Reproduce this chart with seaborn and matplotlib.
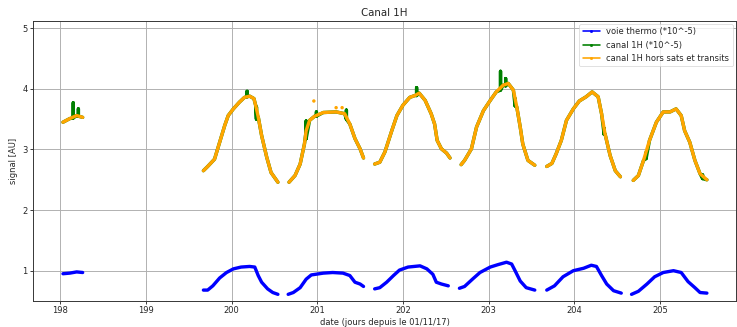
import numpy as np
import pandas as pd
import matplotlib
matplotlib.use("Agg")
import matplotlib.pyplot as plt
import seaborn as sns
from matplotlib.lines import Line2D

# ---------------- data ----------------
blue_x = [
    [198.03, 198.11, 198.19, 198.26],
    [199.67, 199.72, 199.78, 199.86, 199.94, 200.02, 200.11, 200.21, 200.27, 200.31, 200.35, 200.42, 200.48, 200.54],
    [200.66, 200.72, 200.80, 200.87, 200.93, 201.07, 201.18, 201.30, 201.38, 201.44, 201.50, 201.54],
    [201.67, 201.73, 201.81, 201.89, 201.96, 202.06, 202.20, 202.28, 202.35, 202.39, 202.45, 202.53],
    [202.66, 202.72, 202.82, 202.90, 203.02, 203.11, 203.21, 203.27, 203.31, 203.37, 203.44, 203.54],
    [203.68, 203.77, 203.87, 203.99, 204.11, 204.20, 204.26, 204.32, 204.38, 204.46, 204.55],
    [204.67, 204.75, 204.85, 204.94, 205.04, 205.16, 205.25, 205.33, 205.41, 205.47, 205.55],
]
blue_y = [
    [0.95, 0.96, 0.98, 0.97],
    [0.68, 0.68, 0.75, 0.88, 0.97, 1.03, 1.06, 1.07, 1.06, 0.92, 0.81, 0.70, 0.64, 0.61],
    [0.61, 0.64, 0.72, 0.86, 0.93, 0.96, 0.97, 0.96, 0.92, 0.81, 0.78, 0.74],
    [0.70, 0.72, 0.81, 0.92, 1.01, 1.06, 1.08, 1.03, 0.94, 0.81, 0.78, 0.75],
    [0.71, 0.74, 0.87, 0.97, 1.06, 1.10, 1.14, 1.11, 1.00, 0.83, 0.72, 0.68],
    [0.68, 0.75, 0.90, 1.00, 1.04, 1.09, 1.07, 0.92, 0.78, 0.67, 0.63],
    [0.61, 0.66, 0.78, 0.90, 0.97, 1.00, 0.97, 0.82, 0.72, 0.64, 0.63],
]

orange_x = [
    [198.03, 198.11, 198.19, 198.26],
    [199.67, 199.72, 199.80, 199.86, 199.92, 199.96, 200.02, 200.09, 200.15, 200.21, 200.26, 200.28, 200.31, 200.35, 200.41, 200.46, 200.52, 200.54],
    [200.67, 200.74, 200.80, 200.85, 200.87, 200.91, 200.97, 201.07, 201.22, 201.32, 201.38, 201.44, 201.50, 201.54],
    [201.67, 201.73, 201.79, 201.87, 201.93, 202.00, 202.08, 202.14, 202.19, 202.26, 202.33, 202.37, 202.40, 202.45, 202.51, 202.55],
    [202.68, 202.72, 202.80, 202.86, 202.94, 203.02, 203.09, 203.17, 203.23, 203.29, 203.33, 203.37, 203.40, 203.46, 203.54],
    [203.68, 203.74, 203.79, 203.85, 203.91, 203.99, 204.06, 204.14, 204.21, 204.28, 204.32, 204.36, 204.42, 204.48, 204.54],
    [204.69, 204.75, 204.81, 204.88, 204.96, 205.04, 205.12, 205.19, 205.25, 205.29, 205.35, 205.41, 205.47, 205.55],
]
orange_y = [
    [3.45, 3.51, 3.56, 3.53],
    [2.65, 2.72, 2.84, 3.12, 3.40, 3.56, 3.67, 3.78, 3.86, 3.88, 3.84, 3.73, 3.54, 3.23, 2.87, 2.62, 2.50, 2.46],
    [2.46, 2.57, 2.76, 3.09, 3.31, 3.48, 3.55, 3.61, 3.62, 3.59, 3.42, 3.18, 3.01, 2.86],
    [2.76, 2.79, 2.96, 3.31, 3.56, 3.73, 3.86, 3.89, 3.93, 3.81, 3.59, 3.42, 3.15, 3.01, 2.94, 2.86],
    [2.75, 2.82, 3.01, 3.37, 3.64, 3.81, 3.95, 4.06, 4.09, 3.98, 3.70, 3.37, 3.09, 2.82, 2.74],
    [2.72, 2.77, 2.93, 3.15, 3.48, 3.67, 3.80, 3.87, 3.95, 3.87, 3.59, 3.26, 2.90, 2.65, 2.55],
    [2.49, 2.57, 2.82, 3.15, 3.45, 3.62, 3.62, 3.67, 3.56, 3.31, 3.12, 2.82, 2.60, 2.50],
]

# isolated orange points
orange_out_x = [200.96, 201.22, 201.29]
orange_out_y = [3.80, 3.69, 3.69]

# green (canal 1H) excursions above the filtered curve: x, low, high
spike_x = [198.15, 198.21, 200.18, 200.29, 200.87, 200.99, 201.34, 202.16, 203.14, 203.20, 203.31, 204.35, 204.84, 205.50]
spike_lo = [3.52, 3.55, 3.87, 3.50, 3.18, 3.55, 3.50, 3.89, 3.98, 4.05, 3.72, 3.25, 2.85, 2.52]
spike_hi = [3.77, 3.67, 3.96, 3.70, 3.47, 3.62, 3.65, 4.02, 4.29, 4.17, 3.84, 3.35, 2.95, 2.58]

labels = ["voie thermo (*10^-5)", "canal 1H (*10^-5)", "canal 1H hors sats et transits"]
colors = ["blue", "green", "orange"]
xticks = [198, 199, 200, 201, 202, 203, 204, 205]
yticks = [1, 2, 3, 4, 5]


def frame(xs, ys):
    rows = []
    for i, (sx, sy) in enumerate(zip(xs, ys)):
        for a, b in zip(sx, sy):
            rows.append((i, a, b))
    return pd.DataFrame(rows, columns=["seg", "x", "y"])


# green series = filtered points plus the excursions, per segment
green_x, green_y = [], []
for sx, sy in zip(orange_x, orange_y):
    pts = list(zip(sx, sy))
    for xx, lo, hi in zip(spike_x, spike_lo, spike_hi):
        if sx[0] - 0.02 <= xx <= sx[-1] + 0.02:
            pts += [(xx, lo), (xx, hi), (xx, lo)]
    pts = sorted(pts, key=lambda p: p[0])
    green_x.append([p[0] for p in pts])
    green_y.append([p[1] for p in pts])

blue_df = frame(blue_x, blue_y)
green_df = frame(green_x, green_y)
orange_df = frame(orange_x, orange_y)
out_df = pd.DataFrame({"x": orange_out_x, "y": orange_out_y})

# ---------------- figure ----------------
sns.set_style("ticks")
plt.rcParams["font.family"] = ["DejaVu Sans"]

DPI = 737 / 14
fig = plt.figure(figsize=(14, 327 / DPI), dpi=DPI)
ax = fig.add_axes([33 / 737, 1 - 301 / 327, (736 - 33) / 737, (301 - 20.7) / 327])

lw = 4.6
for df, c in [(blue_df, colors[0]), (green_df, colors[1]), (orange_df, colors[2])]:
    sns.lineplot(data=df, x="x", y="y", units="seg", estimator=None, sort=False,
                 color=c, lw=lw, solid_capstyle="round", solid_joinstyle="round",
                 ax=ax, legend=False)
sns.scatterplot(data=out_df, x="x", y="y", color=colors[2], s=22, edgecolor="none", ax=ax, legend=False)

ax.set_xlim(197.68, 205.89)
ax.set_ylim(0.5, 5.125)
ax.set_xticks(xticks)
ax.set_yticks(yticks)
ax.tick_params(labelsize=11.5, length=4, width=1.2)
ax.grid(True, color="#b0b0b0", lw=1.3)
for s in ax.spines.values():
    s.set_color("#333333")
    s.set_linewidth(1.3)

ax.set_title("Canal 1H", fontsize=14)
ax.set_xlabel("date (jours depuis le 01/11/17)", fontsize=11.5, labelpad=3)
ax.set_ylabel("signal [AU]", fontsize=11.5, labelpad=5)

handles = [Line2D([], [], color=c, lw=2.2, marker=".", ms=6) for c in colors]
ax.legend(handles, labels, loc="upper right", fontsize=11.5, borderaxespad=0.4)

fig.savefig("out.png", dpi=DPI)
